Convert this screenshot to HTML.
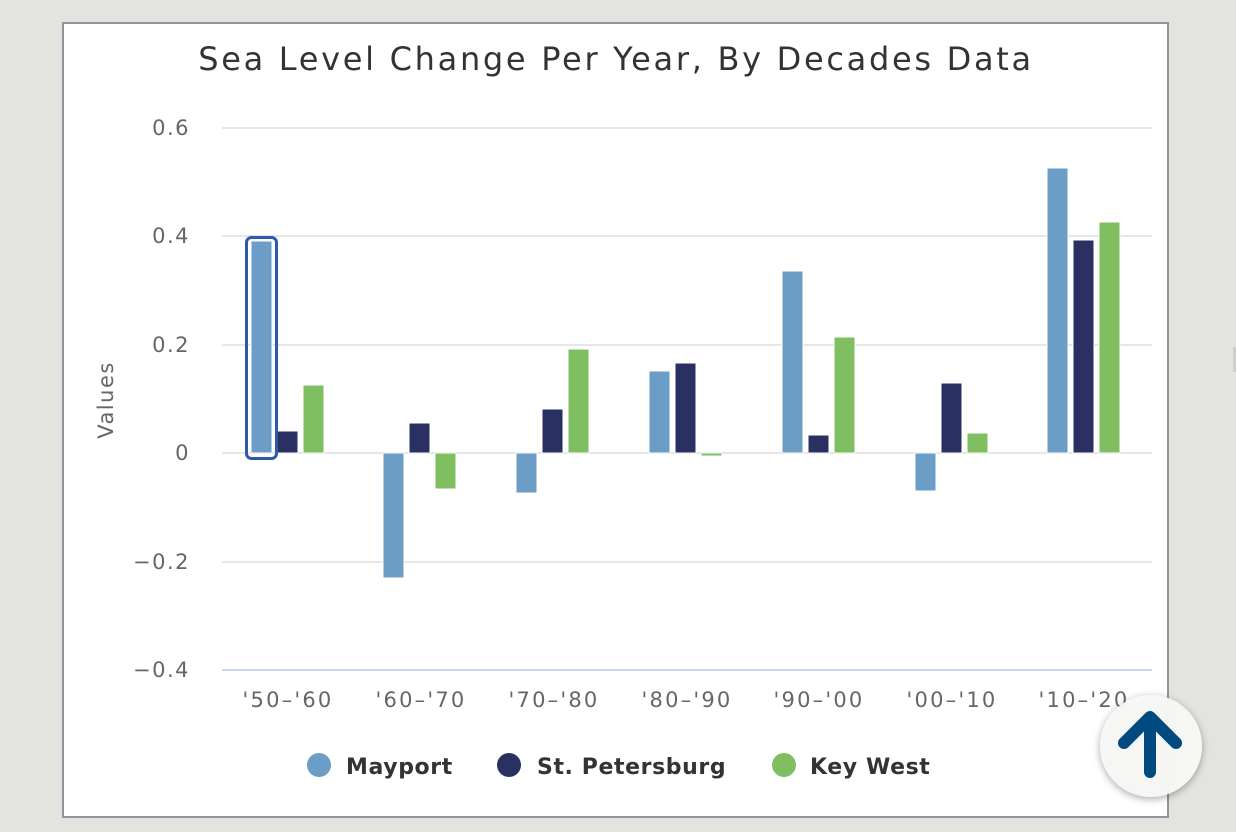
<!DOCTYPE html>
<html><head><meta charset="utf-8"><style>
html,body{margin:0;padding:0;background:#e3e4df;width:1236px;height:832px;overflow:hidden}
svg{display:block}
</style></head><body>
<svg width="1236" height="832" viewBox="0 0 1236 832" xmlns="http://www.w3.org/2000/svg" font-family="DejaVu Sans, sans-serif">
<rect x="0" y="0" width="1236" height="832" fill="#e3e4df"/>
<rect x="1233" y="347" width="3" height="25" fill="#cfd0cc"/>
<rect x="63" y="23" width="1105" height="794" fill="#fff" stroke="#8f959b" stroke-width="2"/>
<text x="616" y="70" text-anchor="middle" font-size="32" fill="#333" letter-spacing="2.7">Sea Level Change Per Year, By Decades Data</text>
<g stroke="#e6e6e6" stroke-width="2">
<line x1="222" y1="128" x2="1152" y2="128"/>
<line x1="222" y1="236" x2="1152" y2="236"/>
<line x1="222" y1="345" x2="1152" y2="345"/>
<line x1="222" y1="453" x2="1152" y2="453"/>
<line x1="222" y1="562" x2="1152" y2="562"/>
</g>
<line x1="222" y1="670" x2="1152" y2="670" stroke="#ccd6eb" stroke-width="2"/>
<g font-size="21" fill="#666" text-anchor="end" letter-spacing="1.5">
<text x="190" y="135">0.6</text>
<text x="190" y="243">0.4</text>
<text x="190" y="352">0.2</text>
<text x="190" y="460">0</text>
<text x="190" y="569">−0.2</text>
<text x="190" y="677">−0.4</text>
</g>
<text transform="translate(113,400) rotate(-90)" text-anchor="middle" font-size="21" fill="#666" letter-spacing="1.5">Values</text>
<g font-size="21" fill="#666" text-anchor="middle" letter-spacing="2.2">
<text x="288" y="707">'50–'60</text>
<text x="421" y="707">'60–'70</text>
<text x="554" y="707">'70–'80</text>
<text x="687" y="707">'80–'90</text>
<text x="819" y="707">'90–'00</text>
<text x="952" y="707">'00–'10</text>
<text x="1084" y="707">'10–'20</text>
</g>
<g stroke="#fff" stroke-width="1">
<g fill="#6b9dc6">
<rect x="251" y="241" width="21" height="212"/>
<rect x="383" y="453" width="21" height="125"/>
<rect x="516" y="453" width="21" height="40"/>
<rect x="649" y="371" width="21" height="82"/>
<rect x="782" y="271" width="21" height="182"/>
<rect x="915" y="453" width="21" height="38"/>
<rect x="1047" y="168" width="21" height="285"/>
</g>
<g fill="#2a3061">
<rect x="277" y="431" width="21" height="22"/>
<rect x="409" y="423" width="21" height="30"/>
<rect x="542" y="409" width="21" height="44"/>
<rect x="675" y="363" width="21" height="90"/>
<rect x="808" y="435" width="21" height="18"/>
<rect x="941" y="383" width="21" height="70"/>
<rect x="1073" y="240" width="21" height="213"/>
</g>
<g fill="#7fbf62">
<rect x="303" y="385" width="21" height="68"/>
<rect x="435" y="453" width="21" height="36"/>
<rect x="568" y="349" width="21" height="104"/>
<rect x="701" y="453" width="21" height="3"/>
<rect x="834" y="337" width="21" height="116"/>
<rect x="967" y="433" width="21" height="20"/>
<rect x="1099" y="222" width="21" height="231"/>
</g>
</g>
<rect x="246.5" y="237.5" width="30" height="221" rx="5" fill="none" stroke="#2e5aa8" stroke-width="3"/>
<g font-size="22" font-weight="bold" fill="#333" letter-spacing="0.6">
<circle cx="319" cy="765" r="12" fill="#6b9dc6"/>
<text x="346" y="774">Mayport</text>
<circle cx="509" cy="765" r="12" fill="#2a3061"/>
<text x="537" y="774">St. Petersburg</text>
<circle cx="784" cy="765" r="12" fill="#7fbf62"/>
<text x="810" y="774">Key West</text>
</g>
<defs><filter id="sh" x="-30%" y="-30%" width="160%" height="160%"><feDropShadow dx="0" dy="2" stdDeviation="4" flood-color="#000" flood-opacity="0.35"/></filter></defs>
<circle cx="1151" cy="746" r="51" fill="#f8f8f6" fill-opacity="0.96" filter="url(#sh)"/>
<g stroke="#004a80" stroke-width="12" stroke-linecap="round" stroke-linejoin="round" fill="none">
<line x1="1150" y1="719" x2="1150" y2="772"/>
<polyline points="1124,743 1150,717 1176,743"/>
</g>
</svg>
</body></html>
